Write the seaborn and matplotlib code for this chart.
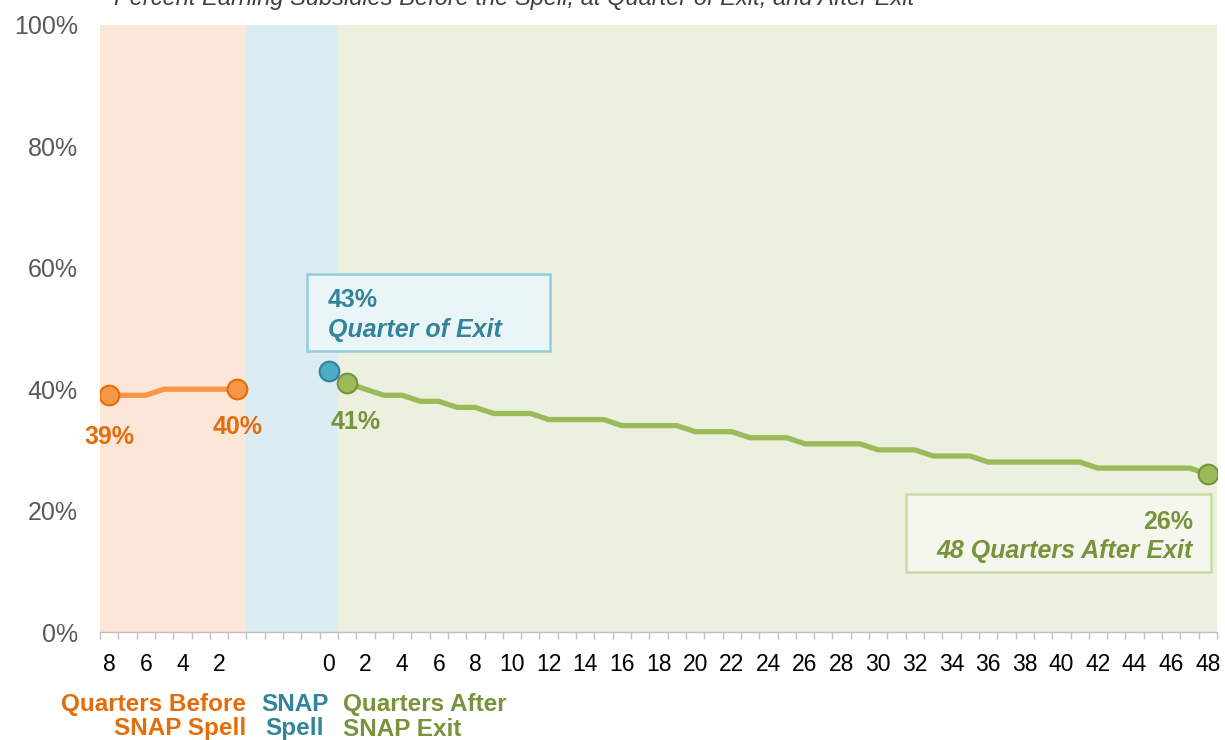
import numpy as np
import pandas as pd
import seaborn as sns
import matplotlib.pyplot as plt
from matplotlib.patches import Rectangle

# data (percent)
before_q = [8, 7, 6, 5, 4, 3, 2, 1]
before_pct = [39, 39, 39, 40, 40, 40, 40, 40]
exit_q = 0
exit_pct = 43
after_q = list(range(1, 49))
after_pct = [41, 40, 39, 39, 38, 38, 37, 37, 36, 36, 36, 35,
             35, 35, 35, 34, 34, 34, 34, 33, 33, 33, 32, 32,
             32, 31, 31, 31, 31, 30, 30, 30, 29, 29, 29, 28,
             28, 28, 28, 28, 28, 27, 27, 27, 27, 27, 27, 26]
n_gap = 4  # empty slots inside the SNAP spell band

sns.set_theme(style="white")
plt.rcParams['font.family'] = ['Liberation Sans', 'DejaVu Sans']

# category positions on a shared axis
pos_before = np.arange(len(before_q))
pos_exit = len(before_q) + n_gap
pos_after = pos_exit + np.array(after_q)
n_cat = pos_after[-1] + 1

df_before = pd.DataFrame({'pos': pos_before, 'pct': before_pct})
df_after = pd.DataFrame({'pos': pos_after, 'pct': after_pct})

labels = [str(q) if q % 2 == 0 else '' for q in before_q]
labels += [''] * n_gap + [str(exit_q)]
labels += [str(q) if q % 2 == 0 else '' for q in after_q]

ORANGE, ORANGE_D = '#F79646', '#E46C0A'
GREEN, GREEN_D = '#9BBB59', '#77933C'
BLUE, BLUE_D = '#4BACC6', '#31849B'
FS = 18

fig, ax = plt.subplots(figsize=(12.25, 7.4), dpi=100)
fig.subplots_adjust(left=100/1225, right=1217/1225, top=1-25/740, bottom=1-632/740)

# background bands
ax.axvspan(-0.5, len(before_q) - 0.5, color='#FCE6D8', lw=0, zorder=0)
ax.axvspan(len(before_q) - 0.5, pos_exit + 0.5, color='#DBEDF3', lw=0, zorder=0)
ax.axvspan(pos_exit + 0.5, n_cat - 0.5, color='#EBF0DF', lw=0, zorder=0)

sns.lineplot(data=df_before, x='pos', y='pct', color=ORANGE, lw=3.8, ax=ax, zorder=3)
sns.lineplot(data=df_after, x='pos', y='pct', color=GREEN, lw=3.8, ax=ax, zorder=3)

ends_b = df_before.iloc[[0, -1]]
ends_a = df_after.iloc[[0, -1]]
sns.scatterplot(data=ends_b, x='pos', y='pct', color=ORANGE, edgecolor=ORANGE_D,
                s=200, linewidth=1.5, ax=ax, zorder=4)
sns.scatterplot(data=ends_a, x='pos', y='pct', color=GREEN, edgecolor=GREEN_D,
                s=200, linewidth=1.5, ax=ax, zorder=4)
sns.scatterplot(x=[pos_exit], y=[exit_pct], color=BLUE, edgecolor=BLUE_D,
                s=200, linewidth=1.5, ax=ax, zorder=4)

# axes styling
ax.set_xlim(-0.5, n_cat - 0.5)
ax.set_ylim(0, 100)
ax.set_xticks(np.arange(n_cat))
ax.set_xticklabels(labels, fontsize=16.5, color='black')
ax.set_xticks(np.arange(n_cat + 1) - 0.5, minor=True)
ax.tick_params(axis='x', which='major', length=0, pad=15)
ax.tick_params(axis='x', which='minor', length=5, color='#BFBFBF', width=1, direction='out', bottom=True)
ax.set_yticks(range(0, 101, 20))
ax.set_yticklabels([f'{v}%' for v in range(0, 101, 20)], fontsize=18, color='#595959')
ax.tick_params(axis='y', length=0, pad=16)
ax.set_xlabel('')
ax.set_ylabel('')
for s in ['top', 'right', 'left']:
    ax.spines[s].set_visible(False)
ax.spines['bottom'].set_color('#BFBFBF')
ax.spines['bottom'].set_linewidth(1)

# point labels
ax.text(pos_before[0], 32.1, f'{before_pct[0]}%', color=ORANGE_D, fontsize=FS,
        fontweight='bold', ha='center', va='center')
ax.text(pos_before[-1], 33.8, f'{before_pct[-1]}%', color=ORANGE_D, fontsize=FS,
        fontweight='bold', ha='center', va='center')
ax.text(pos_after[0] + 0.45, 34.6, f'{after_pct[0]}%', color=GREEN_D, fontsize=FS,
        fontweight='bold', ha='center', va='center')

# callout boxes
ax.add_patch(Rectangle((10.8, 46.3), 13.3, 12.7, facecolor='#EAF5F8',
                       edgecolor='#92CDDC', lw=1.8, zorder=2))
ax.text(11.95, 54.7, f'{exit_pct}%', color=BLUE_D, fontsize=FS, fontweight='bold',
        ha='left', va='center', zorder=5)
ax.text(11.95, 49.7, 'Quarter of Exit', color=BLUE_D, fontsize=FS, fontweight='bold',
        style='italic', ha='left', va='center', zorder=5)

ax.add_patch(Rectangle((43.5, 9.9), 16.65, 12.8, facecolor='#F5F7EE',
                       edgecolor='#C9DBA6', lw=1.8, zorder=2))
ax.text(59.2, 18.1, f'{after_pct[-1]}%', color=GREEN_D, fontsize=FS, fontweight='bold',
        ha='right', va='center', zorder=5)
ax.text(59.2, 13.3, f'{after_q[-1]} Quarters After Exit', color=GREEN_D, fontsize=FS,
        fontweight='bold', style='italic', ha='right', va='center', zorder=5)

# group labels under the axis
tr = ax.get_xaxis_transform()
ax.text(len(before_q) - 0.5, -0.1, 'Quarters Before\nSNAP Spell', transform=tr,
        color=ORANGE_D, fontsize=17.5, fontweight='bold', ha='right', va='top',
        multialignment='right', linespacing=1.1)
ax.text(10.15, -0.1, 'SNAP\nSpell', transform=tr, color=BLUE_D, fontsize=17.5,
        fontweight='bold', ha='center', va='top', multialignment='center', linespacing=1.1)
ax.text(12.77, -0.1, 'Quarters After\nSNAP Exit', transform=tr, color=GREEN_D,
        fontsize=17.5, fontweight='bold', ha='left', va='top', multialignment='left',
        linespacing=1.1)

# subtitle, clipped at the top edge in the original
fig.text(0.42, 0.993, 'Percent Earning Subsidies Before the Spell, at Quarter of Exit, and After Exit',
         color='#404040', fontsize=17, style='italic', ha='center', va='baseline')

fig.savefig('out.png', dpi=100)
